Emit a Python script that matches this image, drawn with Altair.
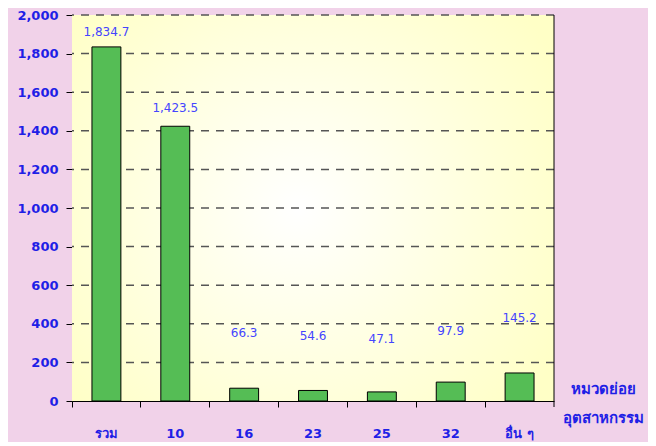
import altair as alt
import pandas as pd

categories = ["รวม", "10", "16", "23", "25", "32", "อื่น ๆ"]
values = [1834.7, 1423.5, 66.3, 54.6, 47.1, 97.9, 145.2]
label_anchor = [1913, 1519, 353, 338, 322, 363, 430]
y_ticks = [200, 400, 600, 800, 1000, 1200, 1400, 1600, 1800, 2000]

df = pd.DataFrame({"cat": categories, "value": values, "lab": label_anchor})
grid_df = pd.DataFrame({"t": y_ticks})

W, H = 482, 386
BLUE = "#1f1fe6"
FONT = "DejaVu Sans"

xscale = alt.Scale(domain=categories, paddingInner=0, paddingOuter=0)
yscale = alt.Scale(domain=[0, 2000], nice=False)

xaxis = alt.Axis(
    bandPosition=0, labelAngle=0, labelFont=FONT, labelFontSize=13, labelFontWeight="bold",
    labelColor=BLUE, labelPadding=26, labelBaseline="middle", tickSize=6, tickColor="black",
    domainColor="black",
    grid=False, title=["หมวดย่อย", "อุตสาหกรรม"], titleFont=FONT, titleFontSize=15,
    titleFontWeight="bold", titleColor=BLUE, titleX=531, titleY=-13, titleAlign="center",
    titleBaseline="middle", titleLineHeight=29, titleAngle=0,
)
yaxis = alt.Axis(
    values=[0] + y_ticks, format=",d", labelFont=FONT, labelFontSize=13, labelFontWeight="bold",
    labelColor=BLUE, labelPadding=8, tickSize=6, tickColor="black", domainColor="black",
    grid=False, title=None,
)

bg = alt.Chart(alt.Data(values=[{}])).mark_rect(
    fill=alt.RadialGradient(
        gradient="radial",
        stops=[alt.GradientStop(offset=0, color="#ffffff"),
               alt.GradientStop(offset=1, color="#ffffc6")],
        x1=0.47, y1=0.5, r1=0, x2=0.47, y2=0.5, r2=0.62,
    )
).encode(x=alt.value(0), x2=alt.value(W), y=alt.value(0), y2=alt.value(H))

grid = alt.Chart(grid_df).mark_rule(color="#555555", strokeDash=[8, 7], strokeWidth=1.5).encode(
    y=alt.Y("t:Q", scale=yscale, axis=yaxis)
)

bars = alt.Chart(df).mark_bar(
    width=alt.RelativeBandSize(0.42), color="#55bd55", stroke="black", strokeWidth=1
).encode(
    x=alt.X("cat:N", sort=categories, scale=xscale, axis=xaxis),
    y=alt.Y("value:Q", scale=yscale, axis=yaxis),
)

labels = alt.Chart(df).mark_text(
    font=FONT, fontSize=12, color="#4444ff", baseline="middle"
).encode(
    x=alt.X("cat:N", sort=categories, scale=xscale, axis=xaxis),
    y=alt.Y("lab:Q", scale=yscale, axis=yaxis),
    text=alt.Text("value:Q", format=",.1f"),
)

border = alt.Chart(alt.Data(values=[{}])).mark_rule(color="black", strokeWidth=1).encode(
    x=alt.value(W), y=alt.value(0), y2=alt.value(H + 6)
)

chart = alt.layer(bg, grid, bars, labels, border).properties(
    width=W, height=H, background="#f1d2e9",
    padding={"left": 64, "top": 7, "right": 94, "bottom": 41},
    autosize=alt.AutoSizeParams(type="none"),
).configure_view(stroke=None)

chart.save("out.html", embed_options={"renderer": "svg", "actions": False})
